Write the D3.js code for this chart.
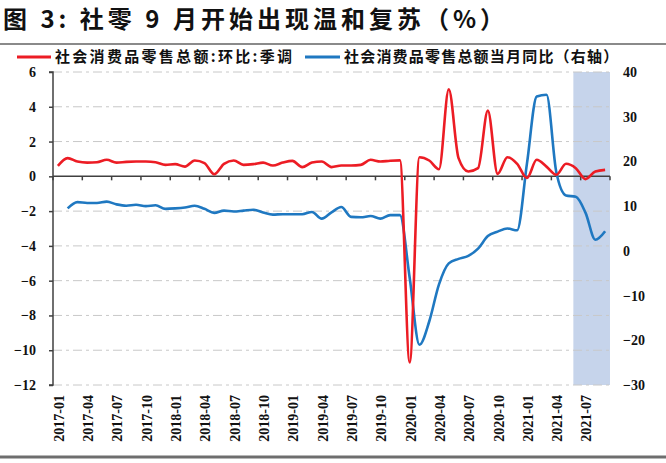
<!DOCTYPE html>
<html><head><meta charset="utf-8">
<script src="https://cdn.jsdelivr.net/npm/d3@7"></script>
<style>body{margin:0;background:#fff}svg{display:block}</style>
</head><body><svg id="c" width="666" height="463"></svg>
<script>
const months = [
 "2017-01","2017-02","2017-03","2017-04","2017-05","2017-06","2017-07","2017-08","2017-09","2017-10","2017-11","2017-12",
 "2018-01","2018-02","2018-03","2018-04","2018-05","2018-06","2018-07","2018-08","2018-09","2018-10","2018-11","2018-12",
 "2019-01","2019-02","2019-03","2019-04","2019-05","2019-06","2019-07","2019-08","2019-09","2019-10","2019-11","2019-12",
 "2020-01","2020-02","2020-03","2020-04","2020-05","2020-06","2020-07","2020-08","2020-09","2020-10","2020-11","2020-12",
 "2021-01","2021-02","2021-03","2021-04","2021-05","2021-06","2021-07","2021-08","2021-09"];
const tickLabels = ["2017-01","2017-04","2017-07","2017-10","2018-01","2018-04","2018-07","2018-10",
 "2019-01","2019-04","2019-07","2019-10","2020-01","2020-04","2020-07","2020-10","2021-01","2021-04","2021-07"];
// 社会消费品零售总额:环比:季调 (left axis, %)
const momSA = [
 0.60,1.05,0.85,0.79,0.81,0.95,0.79,0.83,0.85,0.85,0.81,0.66,
 0.70,0.56,0.91,0.76,0.12,0.72,0.91,0.66,0.70,0.79,0.62,0.79,
 0.89,0.53,0.79,0.85,0.53,0.62,0.62,0.66,0.95,0.85,0.90,0.92,
 -10.7,1.10,0.91,0.41,5.00,1.05,0.28,0.47,3.78,0.14,1.10,0.72,
 -0.10,0.95,0.56,0.09,0.72,0.47,-0.16,0.28,0.37];
// 社会消费品零售总额当月同比 (right axis, %)
const yoy = [
 null,9.5,10.9,10.7,10.7,11.0,10.4,10.1,10.3,10.0,10.2,9.4,
 9.5,9.7,10.1,9.4,8.5,9.0,8.8,9.0,9.2,8.6,8.1,8.2,
 8.2,8.2,8.7,7.2,8.6,9.8,7.6,7.5,7.8,7.2,8.0,8.0,
 -6.0,-21.0,-15.8,-7.5,-2.8,-1.8,-1.1,0.5,3.3,4.3,5.0,4.6,
 19.5,34.5,34.9,17.7,12.4,12.1,8.5,2.5,4.4];
const shadeMonths = ["2021-06","2021-09"];
const leftTicks = [6,4,2,0,-2,-4,-6,-8,-10,-12];
const rightTicks = [40,30,20,10,0,-10,-20,-30];
const seriesNames = ["社会消费品零售总额:环比:季调","社会消费品零售总额当月同比（右轴）"];
const titleText = "图 3: 社零 9 月开始出现温和复苏（%）";

const RED = "#ec1c24", BLUE = "#1f78c1";
const svg = d3.select("#c");
const L = 53, R = 610, T = 72, B = 385;
const x = d3.scaleBand().domain(months).range([L, R]);
const xc = d => x(d) + x.bandwidth() / 2;
const yL = d3.scaleLinear().domain([-12, 6]).range([B, T]);
const yR = d3.scaleLinear().domain([-30, 40]).range([B, T]);
const numFont = "'Liberation Serif','Times New Roman',serif";
const cjkFont = "'Noto Sans CJK SC','Noto Sans',sans-serif";

// title
svg.append("text").attr("x", 3).attr("y", 28)
  .attr("font-family", cjkFont).attr("font-weight", 700).attr("font-size", 24)
  .attr("letter-spacing", 4).attr("fill", "#111").text(titleText);
svg.append("line").attr("x1", 0).attr("x2", 666).attr("y1", 44).attr("y2", 44)
  .attr("stroke", "#8a8a8a").attr("stroke-width", 2);
svg.append("line").attr("x1", 0).attr("x2", 666).attr("y1", 457).attr("y2", 457)
  .attr("stroke", "#6e6e6e").attr("stroke-width", 3);

// legend
const lg = svg.append("g").attr("font-family", cjkFont).attr("font-weight", 700).attr("font-size", 15).attr("fill", "#111");
lg.append("line").attr("x1", 17).attr("x2", 51).attr("y1", 57).attr("y2", 57).attr("stroke", RED).attr("stroke-width", 3);
lg.append("text").attr("x", 55).attr("y", 62).attr("letter-spacing", 2.3).text(seriesNames[0]);
lg.append("line").attr("x1", 305).attr("x2", 340).attr("y1", 57).attr("y2", 57).attr("stroke", BLUE).attr("stroke-width", 3);
lg.append("text").attr("x", 344).attr("y", 62).attr("letter-spacing", 1.2).text(seriesNames[1]);

// shaded period
svg.append("rect")
  .attr("x", x(shadeMonths[0]) + x.bandwidth() * 0.25).attr("y", T)
  .attr("width", x(shadeMonths[1]) + x.bandwidth() - x(shadeMonths[0]) - x.bandwidth() * 0.25)
  .attr("height", B - T).attr("fill", "#c6d4eb");

// gridlines
svg.append("g").selectAll("line").data(leftTicks.filter(d => d !== 0)).join("line")
  .attr("x1", L).attr("x2", R).attr("y1", d => yL(d)).attr("y2", d => yL(d))
  .attr("stroke", "#c8c8c8").attr("stroke-width", 1).attr("stroke-dasharray", "9,4,3,4");

// left axis
const la = svg.append("g").attr("transform", `translate(${L},0)`)
  .call(d3.axisLeft(yL).tickValues(leftTicks).tickSize(4).tickPadding(13).tickFormat(d3.format("d")));
la.select(".domain").attr("stroke", "#404040").attr("stroke-width", 1.5).attr("d", `M-4,${T}H0V${B}H-4`);
la.selectAll(".tick line").attr("stroke", "#404040").attr("stroke-width", 1.5);
la.selectAll("text").attr("font-family", numFont).attr("font-weight", 700).attr("font-size", 14).attr("fill", "#111");

// right axis (labels only)
const ra = svg.append("g").attr("transform", `translate(${R},0)`)
  .call(d3.axisRight(yR).tickValues(rightTicks).tickSize(0).tickPadding(13).tickFormat(d3.format("d")));
ra.select(".domain").remove();
ra.selectAll("text").attr("font-family", numFont).attr("font-weight", 700).attr("font-size", 14).attr("fill", "#111");

// zero line with category ticks
const zy = yL(0);
const tickIdx = months.filter((d, i) => i % 3 === 0).map(d => x(d)).concat([R]);
svg.append("line").attr("x1", L).attr("x2", R).attr("y1", zy).attr("y2", zy).attr("stroke", "#404040").attr("stroke-width", 1.5);
svg.append("g").selectAll("line").data(tickIdx).join("line")
  .attr("x1", d => d).attr("x2", d => d).attr("y1", zy).attr("y2", zy + 4)
  .attr("stroke", "#404040").attr("stroke-width", 1.5);

// x labels at bottom
svg.append("g").selectAll("text").data(tickLabels).join("text")
  .attr("transform", d => `translate(${xc(d) + 1},395) rotate(-90)`)
  .attr("text-anchor", "end").attr("dy", "0.35em")
  .attr("font-family", numFont).attr("font-weight", 700).attr("font-size", 14).attr("fill", "#111")
  .text(d => d);

// lines
const curve = d3.curveMonotoneX;
const blueData = months.map((m, i) => ({m, v: yoy[i]})).filter(d => d.v !== null);
svg.append("path").datum(blueData)
  .attr("d", d3.line().x(d => xc(d.m)).y(d => yR(d.v)).curve(curve))
  .attr("fill", "none").attr("stroke", BLUE).attr("stroke-width", 2.6).attr("stroke-linejoin", "round");
const redData = months.map((m, i) => ({m, v: momSA[i]}));
svg.append("path").datum(redData)
  .attr("d", d3.line().x(d => xc(d.m)).y(d => yL(d.v)).curve(curve))
  .attr("fill", "none").attr("stroke", RED).attr("stroke-width", 2.6).attr("stroke-linejoin", "round");
</script></body></html>
